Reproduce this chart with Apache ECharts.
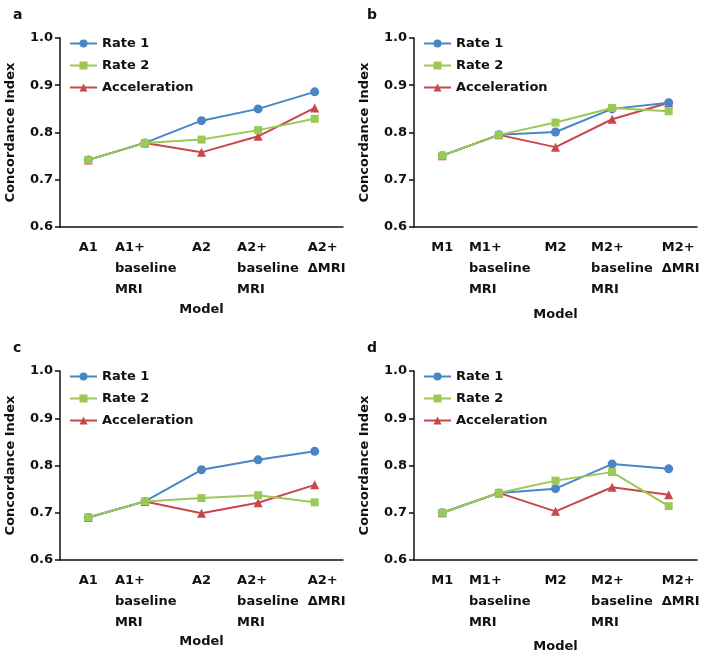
<!DOCTYPE html>
<html>
<head>
<meta charset="utf-8">
<script src="https://cdn.jsdelivr.net/npm/echarts@6/dist/echarts.min.js"></script>
<style>
  html, body { margin: 0; padding: 0; background: #fff; }
  #chart { width: 708px; height: 656px; }
</style>
</head>
<body>
<div id="chart"></div>
<script>
// categories
const catsA = ['A1', 'A1+\nbaseline\nMRI', 'A2', 'A2+\nbaseline\nMRI', 'A2+\nΔMRI'];
const catsM = ['M1', 'M1+\nbaseline\nMRI', 'M2', 'M2+\nbaseline\nMRI', 'M2+\nΔMRI'];
const yTicks = [0.6, 0.7, 0.8, 0.9, 1.0];

// panel a
const aRate1 = [0.742, 0.778, 0.825, 0.850, 0.886];
const aRate2 = [0.742, 0.778, 0.785, 0.805, 0.829];
const aAccel = [0.742, 0.778, 0.758, 0.792, 0.852];
// panel b
const bRate1 = [0.751, 0.795, 0.801, 0.850, 0.863];
const bRate2 = [0.751, 0.795, 0.821, 0.852, 0.845];
const bAccel = [0.751, 0.795, 0.769, 0.828, 0.863];
// panel c
const cRate1 = [0.690, 0.724, 0.791, 0.812, 0.830];
const cRate2 = [0.690, 0.724, 0.731, 0.737, 0.722];
const cAccel = [0.690, 0.724, 0.699, 0.721, 0.759];
// panel d
const dRate1 = [0.700, 0.742, 0.751, 0.803, 0.793];
const dRate2 = [0.700, 0.742, 0.768, 0.786, 0.714];
const dAccel = [0.700, 0.742, 0.703, 0.754, 0.738];

const seriesNames = ['Rate 1', 'Rate 2', 'Acceleration'];
const colors = ['#4a85c6', '#9bc953', '#c8474b'];

const FONT = 'DejaVu Sans';
const panels = [
  { letter: 'a', cats: catsA, data: [aRate1, aRate2, aAccel], left: 60, top: 38, nameGap: 76 },
  { letter: 'b', cats: catsM, data: [bRate1, bRate2, bAccel], left: 414, top: 38, nameGap: 81 },
  { letter: 'c', cats: catsA, data: [cRate1, cRate2, cAccel], left: 60, top: 371, nameGap: 75 },
  { letter: 'd', cats: catsM, data: [dRate1, dRate2, dAccel], left: 414, top: 371, nameGap: 80 }
];

// left-aligned multi-line tick labels, nudged like the original
const labelStyles = ['s', 'l', 's', 'm', 'r'];
function fmtLabel(value, idx) {
  const st = labelStyles[idx];
  return value.split('\n').map(t => '{' + st + '|' + t + '}').join('\n');
}
const rich = {
  s: { fontFamily: FONT, fontWeight: 'bold', fontSize: 13, lineHeight: 21, color: '#111' },
  l: { fontFamily: FONT, fontWeight: 'bold', fontSize: 13, lineHeight: 21, color: '#111', width: 60, align: 'left' },
  m: { fontFamily: FONT, fontWeight: 'bold', fontSize: 13, lineHeight: 21, color: '#111', width: 60, align: 'left', padding: [0, 0, 0, 18] },
  r: { fontFamily: FONT, fontWeight: 'bold', fontSize: 13, lineHeight: 21, color: '#111', width: 40, align: 'left', padding: [0, 0, 0, 26] }
};

const symbols = ['circle', 'rect', 'triangle'];
const symbolSizes = [9, 8, 9];
const zs = [3, 4, 2];

const grid = [], xAxis = [], yAxis = [], series = [], legend = [], title = [];
panels.forEach((p, i) => {
  grid.push({ left: p.left, top: p.top, width: 283, height: 189 });
  xAxis.push({
    type: 'category', gridIndex: i, data: p.cats,
    name: 'Model', nameLocation: 'middle', nameGap: p.nameGap,
    nameTextStyle: { fontFamily: FONT, fontWeight: 'bold', fontSize: 13, color: '#111' },
    axisLine: { lineStyle: { color: '#111', width: 1.5 } },
    axisTick: { alignWithLabel: true, length: 5, lineStyle: { color: '#111', width: 1.5 } },
    axisLabel: { interval: 0, margin: 10, formatter: fmtLabel, rich: rich },
    splitLine: { show: false }
  });
  yAxis.push({
    type: 'value', gridIndex: i, min: 0.6, max: 1.0, interval: 0.1,
    name: 'Concordance Index', nameLocation: 'middle', nameGap: 43,
    nameTextStyle: { fontFamily: FONT, fontWeight: 'bold', fontSize: 13, color: '#111' },
    axisLine: { show: true, lineStyle: { color: '#111', width: 1.5 } },
    axisTick: { show: true, length: 5, lineStyle: { color: '#111', width: 1.5 } },
    axisLabel: {
      margin: 7, fontFamily: FONT, fontWeight: 'bold', fontSize: 13, color: '#111',
      formatter: v => yTicks.includes(Math.round(v * 10) / 10) ? v.toFixed(1) : ''
    },
    splitLine: { show: false }
  });
  p.data.forEach((vals, k) => {
    series.push({
      name: seriesNames[k], type: 'line', xAxisIndex: i, yAxisIndex: i,
      data: vals, symbol: symbols[k], symbolSize: symbolSizes[k], z: zs[k],
      color: colors[k], lineStyle: { width: 2, color: colors[k] },
      itemStyle: { color: colors[k] }, animation: false
    });
  });
  legend.push({
    data: seriesNames, orient: 'vertical', left: p.left + 9, top: p.top - 1,
    padding: 0, itemGap: 9, itemWidth: 27, itemHeight: 10,
    textStyle: { fontFamily: FONT, fontWeight: 'bold', fontSize: 13, color: '#111' }
  });
  title.push({
    text: p.letter, left: p.left - 52, top: p.top - 35,
    textStyle: { fontFamily: FONT, fontWeight: 'bold', fontSize: 14, color: '#111' }
  });
});

const chart = echarts.init(document.getElementById('chart'));
chart.setOption({ animation: false, title, grid, xAxis, yAxis, series, legend });
</script>
</body>
</html>
